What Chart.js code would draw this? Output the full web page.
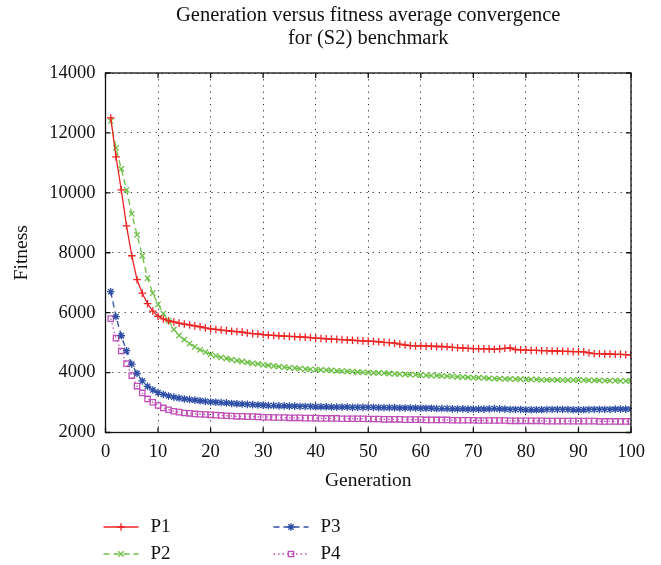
<!DOCTYPE html>
<html>
<head>
<meta charset="utf-8">
<title>Generation versus fitness average convergence</title>
<script src="https://cdn.jsdelivr.net/npm/chart.js"></script>
<style>
	body { margin: 0; background: #fff; }
	#wrap { width: 661px; height: 565px; }
</style>
</head>
<body>
<div id="wrap"><canvas id="fitness-chart" width="661" height="565"></canvas></div>
<script>

var generations = [];
for (var g = 1; g <= 100; g++) generations.push(g);

var p1 = [12500, 11200, 10100, 8900, 7900, 7100, 6650, 6300, 6050, 5880,
	5790, 5730, 5690, 5650, 5620, 5590, 5560, 5530, 5490, 5460,
	5440, 5420, 5400, 5380, 5370, 5350, 5320, 5300, 5290, 5270,
	5250, 5240, 5230, 5220, 5210, 5200, 5190, 5180, 5170, 5150,
	5140, 5130, 5120, 5110, 5100, 5090, 5080, 5070, 5060, 5050,
	5040, 5030, 5010, 5000, 4980, 4950, 4920, 4900, 4890, 4890,
	4880, 4880, 4870, 4870, 4860, 4840, 4830, 4820, 4810, 4800,
	4800, 4790, 4790, 4780, 4790, 4810, 4820, 4770, 4760, 4750,
	4740, 4740, 4730, 4730, 4720, 4720, 4710, 4710, 4700, 4700,
	4690, 4660, 4630, 4630, 4620, 4620, 4610, 4610, 4600, 4590];

var p2 = [12400, 11500, 10800, 10100, 9300, 8600, 7900, 7150, 6650, 6280,
	5970, 5730, 5440, 5240, 5100, 4970, 4860, 4760, 4680, 4610,
	4560, 4510, 4470, 4430, 4400, 4370, 4340, 4310, 4290, 4260,
	4240, 4220, 4200, 4180, 4160, 4150, 4130, 4120, 4110, 4100,
	4090, 4080, 4070, 4060, 4050, 4040, 4030, 4020, 4010, 4000,
	3990, 3990, 3980, 3970, 3960, 3950, 3940, 3930, 3930, 3920,
	3910, 3900, 3900, 3890, 3880, 3870, 3860, 3850, 3840, 3830,
	3830, 3820, 3810, 3800, 3800, 3790, 3790, 3780, 3780, 3770,
	3770, 3770, 3760, 3760, 3760, 3760, 3750, 3750, 3750, 3750,
	3750, 3740, 3740, 3740, 3730, 3730, 3730, 3720, 3720, 3720];

var p3 = [6700, 5870, 5230, 4730, 4280, 3970, 3720, 3540, 3420, 3330,
	3270, 3220, 3180, 3150, 3120, 3100, 3080, 3060, 3040, 3020,
	3010, 3000, 2990, 2970, 2960, 2950, 2940, 2930, 2920, 2910,
	2900, 2900, 2890, 2890, 2880, 2880, 2870, 2870, 2870, 2860,
	2860, 2860, 2850, 2850, 2850, 2850, 2840, 2840, 2840, 2840,
	2840, 2830, 2830, 2830, 2830, 2820, 2820, 2820, 2820, 2810,
	2810, 2810, 2800, 2800, 2800, 2790, 2790, 2790, 2780, 2780,
	2780, 2780, 2790, 2800, 2790, 2780, 2770, 2770, 2770, 2760,
	2760, 2760, 2760, 2770, 2770, 2770, 2770, 2770, 2760, 2760,
	2760, 2770, 2770, 2770, 2770, 2770, 2780, 2780, 2780, 2780];

var p4 = [5800, 5150, 4720, 4300, 3900, 3550, 3320, 3120, 3010, 2900,
	2820, 2760, 2710, 2680, 2650, 2640, 2620, 2610, 2600, 2590,
	2580, 2570, 2560, 2550, 2540, 2540, 2530, 2530, 2520, 2510,
	2510, 2500, 2500, 2500, 2490, 2490, 2490, 2480, 2480, 2480,
	2470, 2470, 2470, 2470, 2460, 2460, 2460, 2460, 2460, 2450,
	2450, 2450, 2440, 2440, 2440, 2440, 2430, 2430, 2430, 2430,
	2420, 2420, 2420, 2420, 2420, 2410, 2410, 2410, 2410, 2410,
	2400, 2400, 2400, 2400, 2400, 2400, 2390, 2390, 2390, 2390,
	2390, 2390, 2390, 2380, 2380, 2380, 2380, 2380, 2380, 2380,
	2380, 2380, 2380, 2370, 2370, 2370, 2370, 2370, 2370, 2370];

var seriesNames = ["P1", "P2", "P3", "P4"];
var titleLines = ["Generation versus fitness average convergence", "for (S2) benchmark"];
var xTitle = "Generation";
var yTitle = "Fitness";

var serif = "'Liberation Serif', 'DejaVu Serif', serif";

function pts(values) {
	return values.map(function(v, i) { return {x: generations[i], y: v}; });
}

// title, axis titles, frame with inward ticks, two-column legend
var decorations = {
	id: 'decorations',
	afterDraw: function(chart) {
		var ctx = chart.ctx;
		var a = chart.chartArea;
		var xs = chart.scales.x, ys = chart.scales.y;
		var cx = (a.left + a.right) / 2;
		ctx.save();
		ctx.fillStyle = '#111';
		ctx.font = '20.5px ' + serif;
		ctx.textAlign = 'center';
		ctx.textBaseline = 'middle';
		ctx.fillText(titleLines[0], cx, 16);
		ctx.fillText(titleLines[1], cx, 39);
		ctx.font = '19.5px ' + serif;
		ctx.fillText(xTitle, cx, 481);
		ctx.save();
		ctx.translate(22, (a.top + a.bottom) / 2);
		ctx.rotate(-Math.PI / 2);
		ctx.fillText(yTitle, 0, 0);
		ctx.restore();

		// frame
		ctx.strokeStyle = '#111';
		ctx.lineWidth = 1.3;
		ctx.setLineDash([]);
		ctx.strokeRect(a.left, a.top, a.right - a.left, a.bottom - a.top);
		ctx.beginPath();
		xs.ticks.forEach(function(t) {
			var px = xs.getPixelForValue(t.value);
			ctx.moveTo(px, a.bottom); ctx.lineTo(px, a.bottom - 5);
			ctx.moveTo(px, a.top); ctx.lineTo(px, a.top + 5);
		});
		ys.ticks.forEach(function(t) {
			var py = ys.getPixelForValue(t.value);
			ctx.moveTo(a.left, py); ctx.lineTo(a.left + 5, py);
			ctx.moveTo(a.right, py); ctx.lineTo(a.right - 5, py);
		});
		ctx.stroke();

		// legend
		ctx.font = '19px ' + serif;
		var cols = [a.left - 2, a.left + 168];
		var rows = [527, 554];
		chart.data.datasets.forEach(function(ds, i) {
			var x0 = cols[Math.floor(i / 2)];
			var y0 = rows[i % 2];
			ctx.save();
			ctx.strokeStyle = ds.borderColor;
			ctx.lineWidth = ds.borderWidth;
			ctx.setLineDash(ds.borderDash || []);
			ctx.beginPath();
			ctx.moveTo(x0, y0); ctx.lineTo(x0 + 35, y0);
			ctx.stroke();
			ctx.setLineDash([]);
			ctx.fillStyle = ds.pointBackgroundColor;
			ctx.lineWidth = ds.pointBorderWidth;
			if (Chart.helpers && Chart.helpers.drawPoint) {
				Chart.helpers.drawPoint(ctx, {pointStyle: ds.pointStyle, radius: ds.pointRadius, rotation: 0, borderWidth: ds.pointBorderWidth}, x0 + 17.5, y0);
			}
			ctx.restore();
			ctx.fillStyle = '#111';
			ctx.textAlign = 'left';
			ctx.fillText(ds.label, x0 + 47, y0);
		});
		ctx.restore();
	}
};

document.addEventListener("DOMContentLoaded", function() {

	new Chart(document.getElementById("fitness-chart"), {
		type: 'line',
		data: {
			datasets: [{
				label: seriesNames[0],
				data: pts(p1),
				borderColor: '#ee2424',
				borderWidth: 1.3,
				pointStyle: 'cross',
				pointRadius: 3.8,
				pointBorderWidth: 1.3,
				pointBackgroundColor: 'rgba(0,0,0,0)',
				pointBorderColor: '#ee2424'
			}, {
				label: seriesNames[1],
				data: pts(p2),
				borderColor: '#6cc045',
				borderWidth: 1.3,
				borderDash: [6, 4],
				pointStyle: 'crossRot',
				pointRadius: 3.8,
				pointBorderWidth: 1.3,
				pointBackgroundColor: 'rgba(0,0,0,0)',
				pointBorderColor: '#6cc045'
			}, {
				label: seriesNames[2],
				data: pts(p3),
				borderColor: '#2f4fa6',
				borderWidth: 1.3,
				borderDash: [6, 4],
				pointStyle: 'star',
				pointRadius: 3.8,
				pointBorderWidth: 1.3,
				pointBackgroundColor: 'rgba(0,0,0,0)',
				pointBorderColor: '#2f4fa6'
			}, {
				label: seriesNames[3],
				data: pts(p4),
				borderColor: '#c04fb8',
				borderWidth: 1.3,
				borderDash: [1.5, 3],
				pointStyle: 'rect',
				pointRadius: 3.8,
				pointBorderWidth: 1.3,
				pointBackgroundColor: 'rgba(0,0,0,0)',
				pointBorderColor: '#c04fb8'
			}]
		},
		options: {
			responsive: false,
			animation: false,
			layout: { padding: { top: 73, right: 30, bottom: 0, left: 0 } },
			plugins: {
				legend: { display: false },
				tooltip: { enabled: false }
			},
			scales: {
				x: {
					type: 'linear',
					min: 0,
					max: 100,
					afterFit: function(s) { s.height = 132.5; },
					grid: { color: '#333', lineWidth: 1, drawTicks: false },
					border: { display: false, dash: [1.2, 5] },
					ticks: {
						stepSize: 10, padding: 9, color: '#111',
						font: { family: serif, size: 18.5 },
						callback: function(v) { return String(v); }
					}
				},
				y: {
					min: 2000,
					max: 14000,
					afterFit: function(s) { s.width = 105.5; },
					grid: { color: '#333', lineWidth: 1, drawTicks: false },
					border: { display: false, dash: [1.2, 5] },
					ticks: {
						stepSize: 2000, padding: 10, color: '#111',
						font: { family: serif, size: 18.5 },
						callback: function(v) { return String(v); }
					}
				}
			}
		},
		plugins: [decorations]
	});
});

</script>
</body>
</html>
